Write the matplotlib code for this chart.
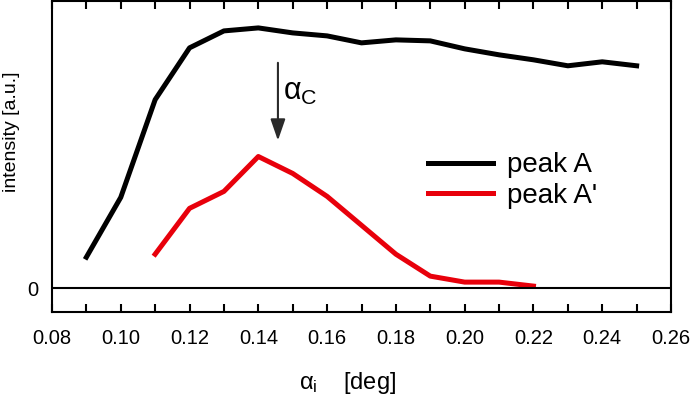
import numpy as np
import matplotlib
matplotlib.use('Agg')
import matplotlib.pyplot as plt
from matplotlib.ticker import MultipleLocator

plt.rcParams['font.family'] = ['Liberation Sans', 'DejaVu Sans']
plt.rcParams['mathtext.fontset'] = 'custom'
plt.rcParams['mathtext.rm'] = 'Liberation Sans'
plt.rcParams['mathtext.it'] = 'Liberation Sans'

# data (arbitrary intensity units)
x_a = [0.09, 0.10, 0.11, 0.12, 0.13, 0.14, 0.15, 0.16, 0.17, 0.18,
       0.19, 0.20, 0.21, 0.22, 0.23, 0.24, 0.25]
y_a = [31, 91, 189, 241, 258, 261, 256, 253, 246, 249,
       248, 240, 234, 229, 223, 227, 223]
x_b = [0.11, 0.12, 0.13, 0.14, 0.15, 0.16, 0.17, 0.18, 0.19, 0.20, 0.21, 0.22]
y_b = [34, 80, 97, 132, 115, 92, 63, 34, 12, 6, 6, 2]
labels = ['peak A', "peak A'"]
alpha_c = 0.1457

fig = plt.figure(figsize=(6.92, 3.99), dpi=100)
ax = fig.add_axes([0.0751, 0.218, 0.8946, 0.7795])

ax.plot(x_a, y_a, color='black', lw=3.6, label=labels[0])
ax.plot(x_b, y_b, color='#e8000b', lw=3.6, label=labels[1])
ax.axhline(0, color='black', lw=1.5)

ax.annotate('', xy=(alpha_c, 148), xytext=(alpha_c, 226),
            arrowprops=dict(arrowstyle='-|>,head_length=1.3,head_width=0.45',
                            color='#2a2a2a', lw=1.5, shrinkA=0, shrinkB=0))
ax.text(alpha_c + 0.0016, 197, r'$\alpha_\mathrm{C}$', fontsize=22,
        ha='left', va='center')

ax.set_xlim(0.08, 0.26)
ax.set_ylim(-24, 288)
ax.xaxis.set_major_locator(MultipleLocator(0.02))
ax.xaxis.set_minor_locator(MultipleLocator(0.01))
ax.set_yticks([0])
ax.tick_params(axis='x', which='both', direction='in', top=True,
               labelsize=14.5, width=1.5, pad=12)
ax.tick_params(axis='x', which='major', length=6)
ax.tick_params(axis='x', which='minor', length=6)
ax.tick_params(axis='y', length=0, labelsize=14.5, pad=10)
for s in ax.spines.values():
    s.set_linewidth(1.5)

ax.set_xlabel(r'$\alpha_\mathrm{i}$    [deg]', fontsize=17)
ax.xaxis.set_label_coords(0.478, -0.185)
ax.set_ylabel('intensity [a.u.]', fontsize=14)
ax.yaxis.set_label_coords(-0.052, 0.58)

ax.legend(loc='upper left', bbox_to_anchor=(0.607, 0.513), frameon=False,
          fontsize=20, handlelength=2.35, handletextpad=0.5,
          labelspacing=0.15, borderaxespad=0, borderpad=0)

fig.savefig('out.png', dpi=100)
